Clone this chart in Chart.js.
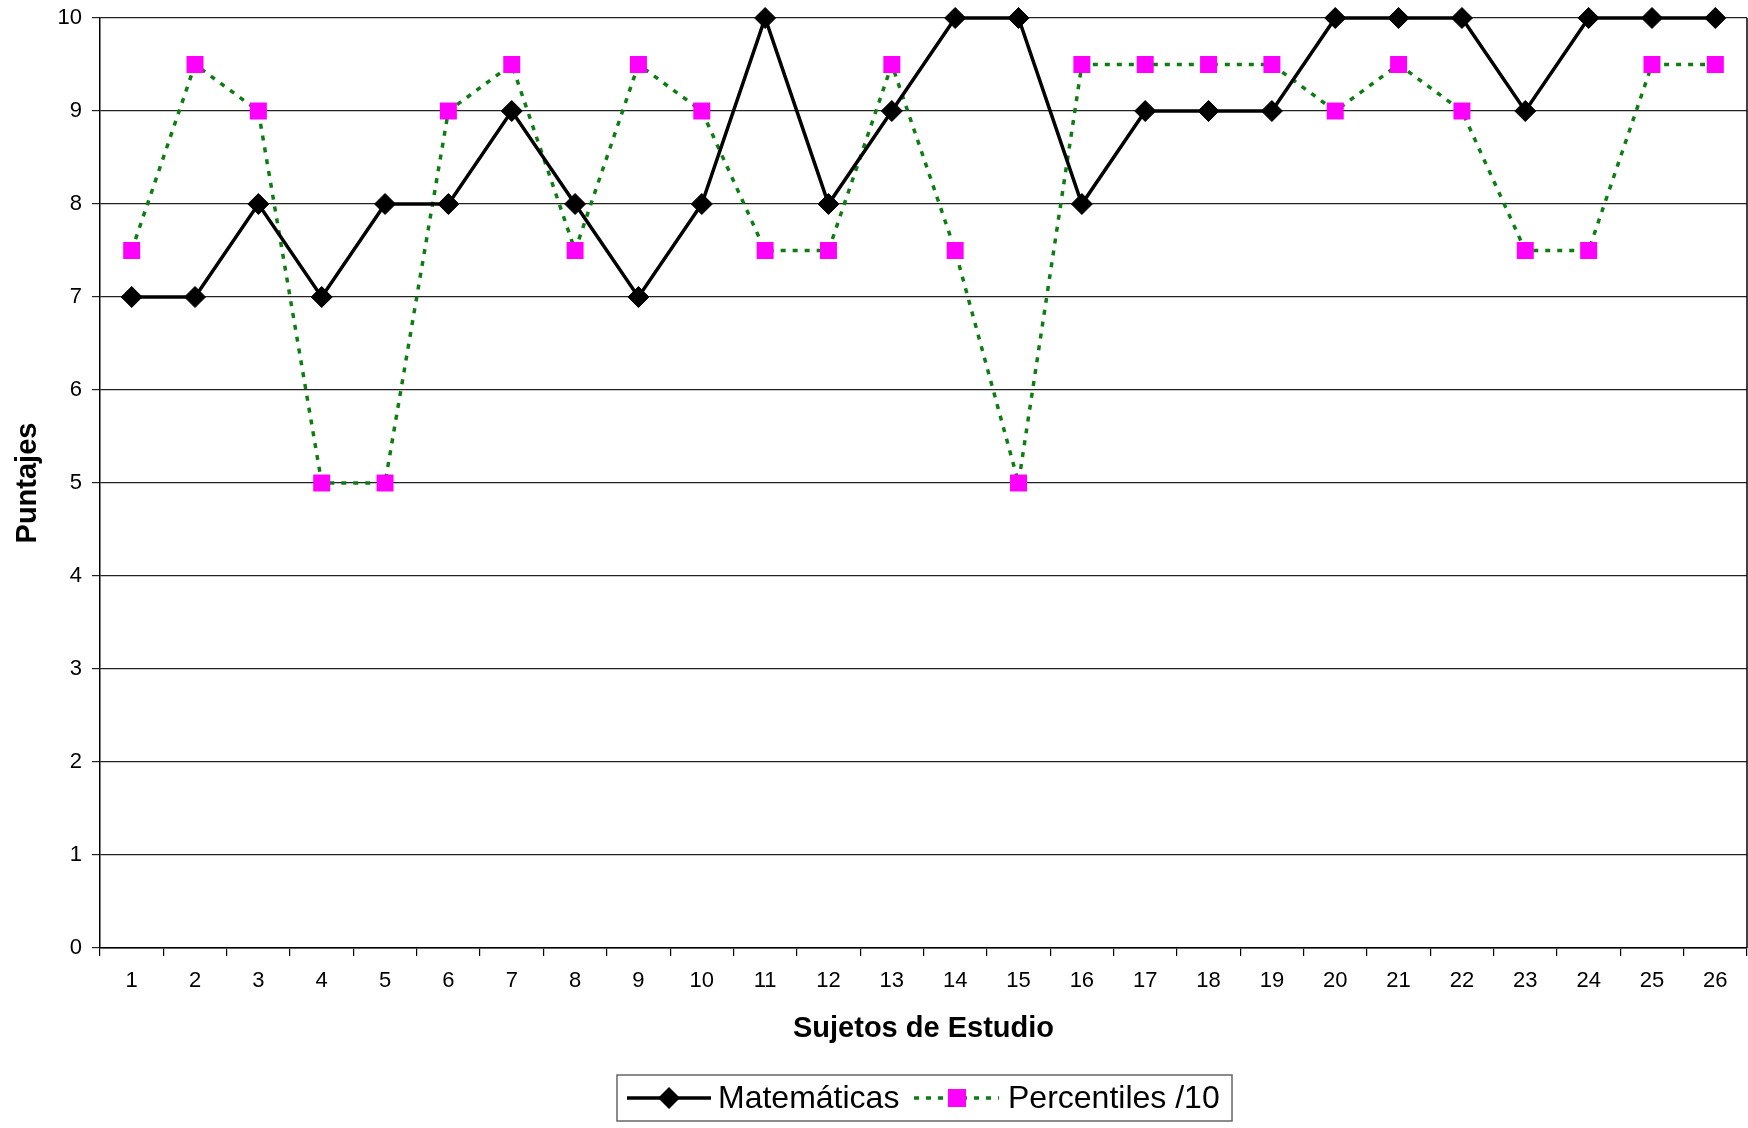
<!DOCTYPE html>
<html>
<head>
<meta charset="utf-8">
<script src="https://cdn.jsdelivr.net/npm/chart.js@4/dist/chart.umd.min.js"></script>
<style>
  html, body { margin: 0; padding: 0; background: #fff; overflow: hidden; }
  #wrap { width: 1748px; height: 1128px; }
  canvas { display: block; }
</style>
</head>
<body>
<div id="wrap"><canvas id="chart" width="1748" height="1128"></canvas></div>
<script>
// subjects 1..26
const sujetos = ['1','2','3','4','5','6','7','8','9','10','11','12','13','14','15','16','17','18','19','20','21','22','23','24','25','26'];
const matematicas = [7,7,8,7,8,8,9,8,7,8,10,8,9,10,10,8,9,9,9,10,10,10,9,10,10,10];
const percentiles10 = [7.5,9.5,9,5,5,9,9.5,7.5,9.5,9,7.5,7.5,9.5,7.5,5,9.5,9.5,9.5,9.5,9,9.5,9,7.5,7.5,9.5,9.5];
const yTicks = [0,1,2,3,4,5,6,7,8,9,10];

const FONT = 'Liberation Sans, Arial, sans-serif';
const GREEN = '#0d7d12';
const MAGENTA = '#ff00ff';

// big markers would otherwise push the plot area in from the right edge
Chart.LineController.prototype.getMaxOverflow = () => 0;

// right border + boxed legend like the original sheet chart
const extras = {
  id: 'extras',
  afterDraw(chart){
    const c = chart.ctx, a = chart.chartArea;
    c.save();
    c.strokeStyle = '#000'; c.lineWidth = 1.5;
    c.beginPath(); c.moveTo(a.right, a.top); c.lineTo(a.right, a.bottom); c.stroke();

    // legend box
    const bx = 617, by = 1075, bw = 615, bh = 46, ly = 1098;
    c.fillStyle = '#fff'; c.fillRect(bx, by, bw, bh);
    c.strokeStyle = '#666'; c.lineWidth = 1.5; c.strokeRect(bx, by, bw, bh);

    c.strokeStyle = '#000'; c.lineWidth = 3.5;
    c.beginPath(); c.moveTo(627, ly); c.lineTo(711, ly); c.stroke();
    c.fillStyle = '#000';
    c.beginPath(); c.moveTo(669, ly-11); c.lineTo(680, ly); c.lineTo(669, ly+11); c.lineTo(658, ly); c.closePath(); c.fill();

    c.strokeStyle = GREEN; c.setLineDash([5, 7]);
    c.beginPath(); c.moveTo(914, ly); c.lineTo(999, ly); c.stroke();
    c.setLineDash([]);
    c.fillStyle = MAGENTA; c.fillRect(948, ly-9, 18, 18);

    c.fillStyle = '#000'; c.font = '32px ' + FONT; c.textBaseline = 'middle'; c.textAlign = 'left';
    c.fillText('Matemáticas', 718, ly + 1);
    c.fillText('Percentiles /10', 1008, ly + 1);
    c.restore();
  }
};

new Chart(document.getElementById('chart').getContext('2d'), {
  type: 'line',
  data: {
    labels: sujetos,
    datasets: [{
      label: 'Matemáticas',
      data: matematicas,
      borderColor: '#000',
      backgroundColor: '#000',
      borderWidth: 3.5,
      pointStyle: 'rectRot',
      pointRadius: 10.5,
      pointBorderWidth: 1,
      tension: 0,
      clip: false
    },{
      label: 'Percentiles /10',
      data: percentiles10,
      borderColor: GREEN,
      backgroundColor: MAGENTA,
      pointBorderColor: MAGENTA,
      borderWidth: 3.5,
      borderDash: [5, 7],
      pointStyle: 'rect',
      pointRadius: 12,
      pointBorderWidth: 0,
      tension: 0,
      clip: false
    }]
  },
  options: {
    responsive: false,
    animation: false,
    layout: { padding: { top: 18, right: 1, left: 0, bottom: 66 } },
    plugins: { legend: { display: false }, tooltip: { enabled: false } },
    scales: {
      x: {
        offset: true,
        grid: { offset: true, drawOnChartArea: false, drawTicks: true, tickLength: 8, color: '#000', lineWidth: 1.2 },
        border: { display: true, color: '#000', width: 1.5 },
        ticks: { color: '#000', font: { family: FONT, size: 22 }, padding: 12, maxRotation: 0, autoSkip: false },
        title: { display: true, text: 'Sujetos de Estudio', color: '#000',
                 font: { family: FONT, size: 29, weight: 'bold' }, padding: { top: 0, bottom: 16 } },
        afterFit: s => { s.height = 114; s.paddingLeft = 0; s.paddingRight = 0; }
      },
      y: {
        min: 0, max: 10,
        afterBuildTicks: s => { s.ticks = yTicks.map(v => ({ value: v })); },
        grid: { color: '#222', lineWidth: 1.2, drawTicks: true, tickLength: 8 },
        border: { display: true, color: '#000', width: 1.5 },
        ticks: { color: '#000', font: { family: FONT, size: 22 }, padding: 10 },
        title: { display: true, text: 'Puntajes', color: '#000',
                 font: { family: FONT, size: 29, weight: 'bold' }, padding: { top: 11, bottom: 0 } },
        afterFit: s => { s.width = 100; s.paddingTop = 0; s.paddingBottom = 0; }
      }
    }
  },
  plugins: [extras]
});
</script>
</body>
</html>
